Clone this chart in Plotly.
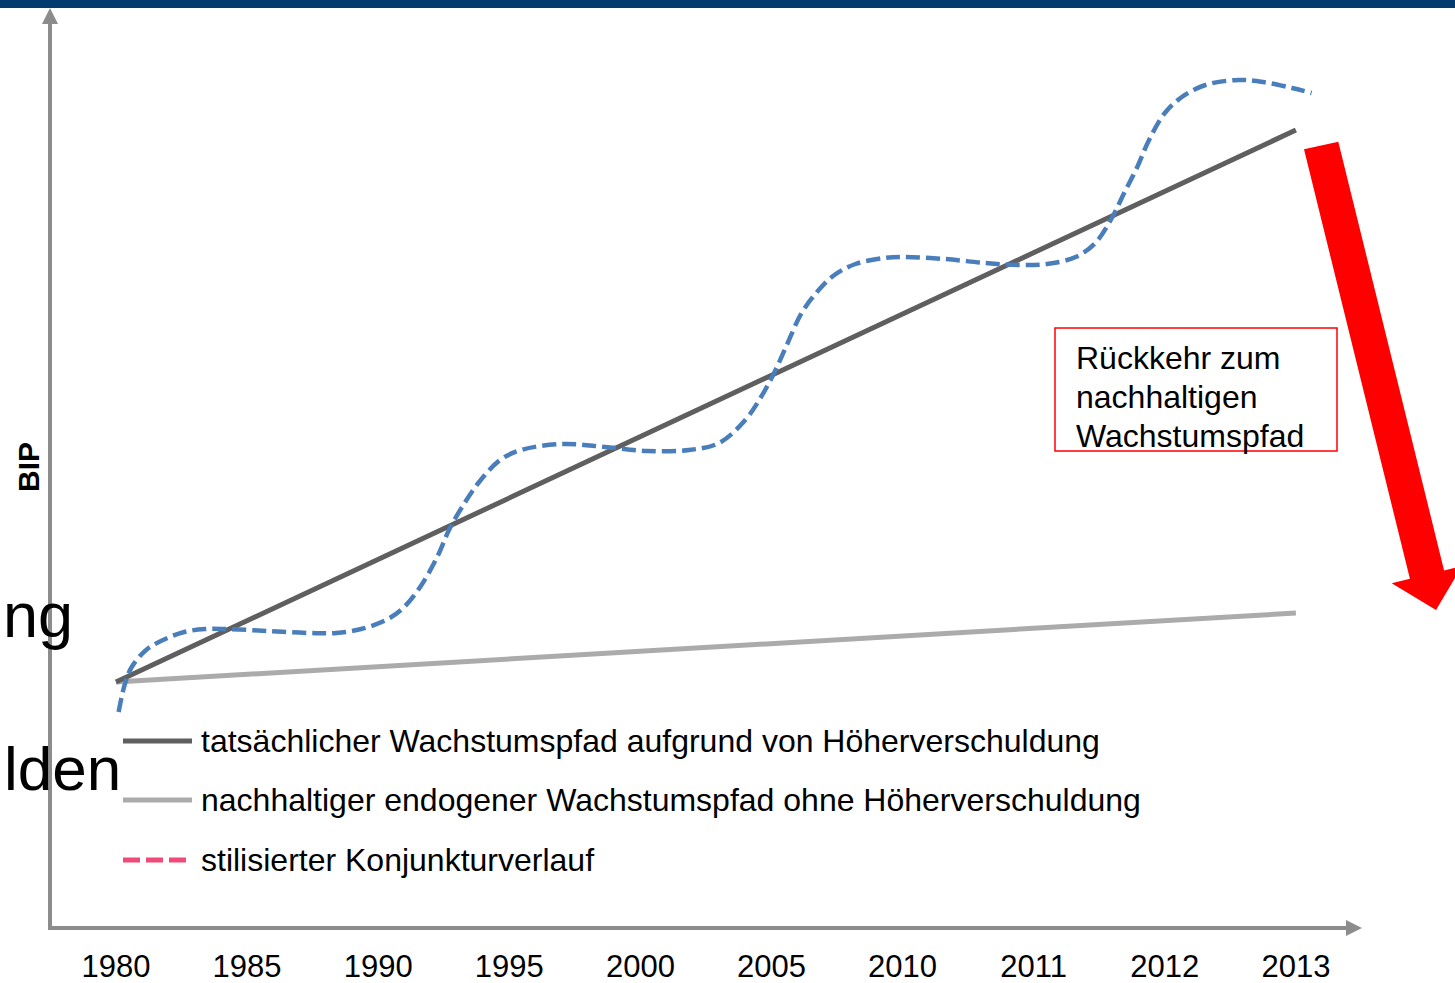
import plotly.graph_objects as go

W, H = 1455, 983
PLOT_BOTTOM = 928  # pixel row of the x axis

# ---------------- data ----------------
categories = ["1980", "1985", "1990", "1995", "2000", "2005", "2010", "2011", "2012", "2013"]
cat_pos = list(range(len(categories)))

# tatsächlicher Wachstumspfad (straight line first -> last category)
actual_x = [0, 9]
actual_y = [24.6, 79.8]

# nachhaltiger endogener Wachstumspfad
sustainable_x = [0, 9]
sustainable_y = [24.6, 31.5]

# stilisierter Konjunkturverlauf (x in category-index units)
cycle_x = [0.02, 0.07, 0.12, 0.23, 0.36, 0.52, 0.68, 0.84, 1.16, 1.48, 1.68, 1.87,
           2.06, 2.19, 2.32, 2.45, 2.54, 2.64, 2.77, 2.93, 3.09, 3.41, 3.73, 4.05,
           4.37, 4.60, 4.80, 4.92, 5.02, 5.11, 5.23, 5.36, 5.48, 5.64, 5.86, 6.01,
           6.32, 6.63, 6.88, 7.10, 7.32, 7.47, 7.60, 7.69, 7.79, 7.88, 8.00, 8.13,
           8.31, 8.56, 8.75, 8.97, 9.12]
cycle_y = [21.6, 24.5, 26.1, 27.8, 28.8, 29.6, 29.9, 29.9, 29.7, 29.5, 29.5, 29.9,
           30.8, 32.0, 34.1, 37.1, 39.8, 42.1, 44.6, 46.8, 47.8, 48.4, 48.1, 47.7,
           47.8, 48.5, 50.8, 53.1, 55.5, 58.1, 61.5, 63.8, 65.3, 66.4, 67.0, 67.1,
           66.9, 66.5, 66.3, 66.4, 67.1, 68.5, 71.1, 73.5, 76.1, 78.8, 81.5, 83.1,
           84.3, 84.8, 84.6, 84.0, 83.5]

legend_labels = [
    "tatsächlicher Wachstumspfad aufgrund von Höherverschuldung",
    "nachhaltiger endogener Wachstumspfad ohne Höherverschuldung",
    "stilisierter Konjunkturverlauf",
]
box_lines = ["Rückkehr zum", "nachhaltigen", "Wachstumspfad"]
y_title = "BIP"
cut_texts = ["ng", "lden"]

# ---------------- styling ----------------
FONT = "Arial, 'Liberation Sans', sans-serif"
DARK = "#5f5f5f"
LIGHT = "#ababab"
BLUE = "#4a7ebb"
PINK = "#f04a78"
AXIS = "#8c8c8c"


def px(x):
    return x / W


def py(y):
    return (PLOT_BOTTOM - y) / PLOT_BOTTOM


fig = go.Figure()
fig.add_trace(go.Scatter(x=sustainable_x, y=sustainable_y, mode="lines",
                         line=dict(color=LIGHT, width=5), name=legend_labels[1],
                         hoverinfo="skip"))
fig.add_trace(go.Scatter(x=actual_x, y=actual_y, mode="lines",
                         line=dict(color=DARK, width=5), name=legend_labels[0],
                         hoverinfo="skip"))
fig.add_trace(go.Scatter(x=cycle_x, y=cycle_y, mode="lines",
                         line=dict(color=BLUE, width=4.5, dash="14px,6px",
                                   shape="spline", smoothing=1.0),
                         name=legend_labels[2], hoverinfo="skip"))

shapes = []
# top banner
shapes.append(dict(type="rect", xref="paper", yref="paper", x0=px(0), x1=px(W),
                   y0=py(8), y1=py(0), fillcolor="#003a6f", line=dict(width=0)))
# y axis with arrow
shapes.append(dict(type="line", xref="paper", yref="paper", x0=px(50), x1=px(50),
                   y0=py(930), y1=py(22), line=dict(color=AXIS, width=4)))
shapes.append(dict(type="path", xref="paper", yref="paper",
                   path=f"M {px(42)},{py(24)} L {px(58)},{py(24)} L {px(50)},{py(8)} Z",
                   fillcolor=AXIS, line=dict(width=0)))
# x axis with arrow
shapes.append(dict(type="line", xref="paper", yref="paper", x0=px(48), x1=px(1348),
                   y0=py(928), y1=py(928), line=dict(color=AXIS, width=4)))
shapes.append(dict(type="path", xref="paper", yref="paper",
                   path=f"M {px(1346)},{py(920)} L {px(1346)},{py(936)} L {px(1362)},{py(928)} Z",
                   fillcolor=AXIS, line=dict(width=0)))
# legend samples
leg_y = [741, 800, 860]
shapes.append(dict(type="line", xref="paper", yref="paper", x0=px(123), x1=px(192),
                   y0=py(leg_y[0]), y1=py(leg_y[0]), line=dict(color=DARK, width=5)))
shapes.append(dict(type="line", xref="paper", yref="paper", x0=px(123), x1=px(192),
                   y0=py(leg_y[1]), y1=py(leg_y[1]), line=dict(color=LIGHT, width=5)))
shapes.append(dict(type="line", xref="paper", yref="paper", x0=px(123), x1=px(186),
                   y0=py(leg_y[2]), y1=py(leg_y[2]),
                   line=dict(color=PINK, width=5, dash="17px,6px")))
# annotation box
shapes.append(dict(type="rect", xref="paper", yref="paper", x0=px(1055), x1=px(1337),
                   y0=py(451), y1=py(328), line=dict(color="#ff0000", width=1.5),
                   fillcolor="rgba(0,0,0,0)"))
# big red arrow
arrow_pts = [(1304, 149.3), (1338.3, 141.7), (1444.1, 570.4), (1462.2, 565.9),
             (1436, 610), (1391.7, 583.3), (1409.9, 578.8)]
path = "M " + " L ".join(f"{px(a)},{py(b)}" for a, b in arrow_pts) + " Z"
shapes.append(dict(type="path", xref="paper", yref="paper", path=path,
                   fillcolor="#ff0000", line=dict(width=0), layer="above"))

annotations = []
annotations.append(dict(xref="paper", yref="paper", x=px(75), y=py(615), text=cut_texts[0],
                        showarrow=False, xanchor="right", yanchor="middle",
                        font=dict(family=FONT, size=63, color="black")))
annotations.append(dict(xref="paper", yref="paper", x=px(123), y=py(768), text=cut_texts[1],
                        showarrow=False, xanchor="right", yanchor="middle",
                        font=dict(family=FONT, size=62, color="black")))
annotations.append(dict(xref="paper", yref="paper", x=px(28), y=py(467), text=f"<b>{y_title}</b>",
                        showarrow=False, textangle=-90, xanchor="center", yanchor="middle",
                        font=dict(family=FONT, size=30, color="black")))
for lab, yy in zip(legend_labels, leg_y):
    annotations.append(dict(xref="paper", yref="paper", x=px(199), y=py(yy), text=lab,
                            showarrow=False, xanchor="left", yanchor="middle",
                            font=dict(family=FONT, size=32, color="black")))
for line, yy in zip(box_lines, [358, 397, 436]):
    annotations.append(dict(xref="paper", yref="paper", x=px(1074), y=py(yy), text=line,
                            showarrow=False, xanchor="left", yanchor="middle",
                            font=dict(family=FONT, size=32, color="black")))

fig.update_layout(
    width=W, height=H, autosize=False,
    margin=dict(l=0, r=0, t=0, b=H - PLOT_BOTTOM, pad=0),
    paper_bgcolor="white", plot_bgcolor="white",
    showlegend=False,
    shapes=shapes, annotations=annotations,
    xaxis=dict(range=[-0.8848, 10.2136], tickvals=cat_pos, ticktext=categories,
               showgrid=False, zeroline=False, showline=False, ticks="",
               ticklabelstandoff=17,
               tickfont=dict(family=FONT, size=31, color="black"), fixedrange=True),
    yaxis=dict(range=[0, 92.8], visible=False, showgrid=False, zeroline=False,
               fixedrange=True),
)

fig.write_html("out.html", config={"displayModeBar": False},
               post_script="document.body.style.margin='0';document.body.style.overflow='hidden';")
